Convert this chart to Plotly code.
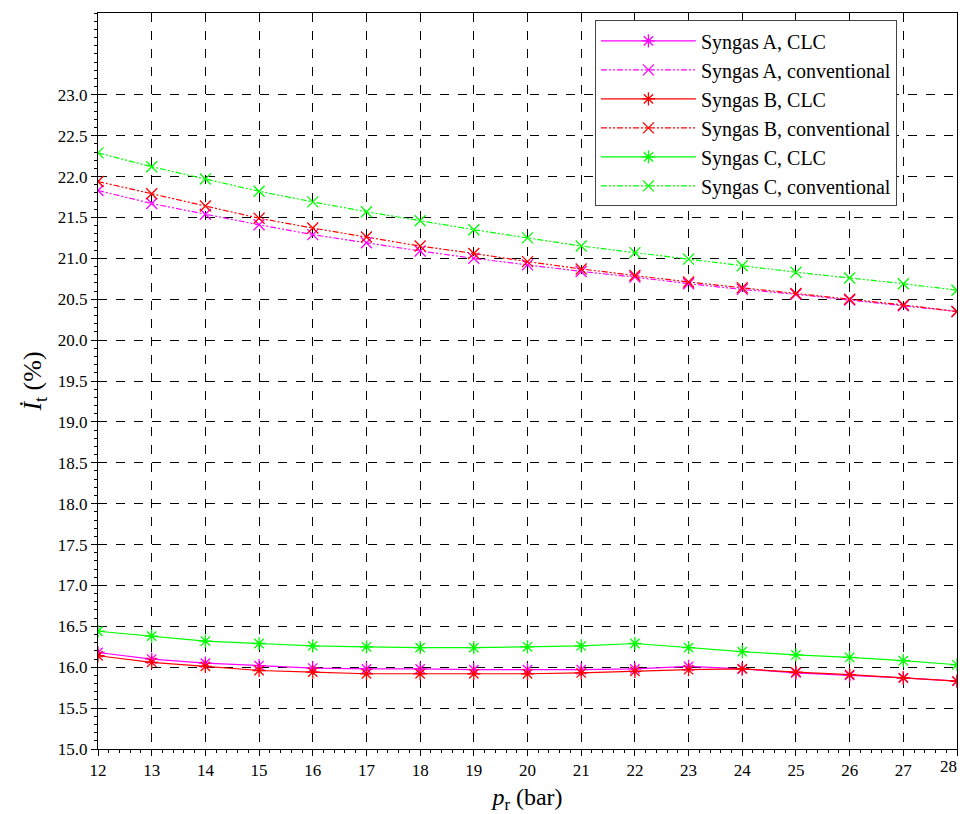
import plotly.graph_objects as go

x_vals = list(range(12, 29))

syngas_a_clc = [16.18, 16.10, 16.05, 16.02, 15.99, 15.98, 15.98, 15.97, 15.97, 15.97, 15.98, 16.01, 15.98, 15.93, 15.90, 15.87, 15.83]
syngas_a_conv = [21.83, 21.67, 21.54, 21.41, 21.29, 21.19, 21.09, 21.00, 20.92, 20.84, 20.77, 20.69, 20.62, 20.56, 20.49, 20.42, 20.35]
syngas_b_clc = [16.14, 16.06, 16.01, 15.96, 15.94, 15.92, 15.92, 15.92, 15.92, 15.93, 15.95, 15.97, 15.98, 15.94, 15.91, 15.87, 15.83]
syngas_b_conv = [21.94, 21.79, 21.64, 21.49, 21.37, 21.26, 21.15, 21.06, 20.96, 20.87, 20.79, 20.71, 20.64, 20.57, 20.50, 20.43, 20.35]
syngas_c_clc = [16.44, 16.38, 16.32, 16.29, 16.26, 16.25, 16.24, 16.24, 16.25, 16.26, 16.29, 16.24, 16.19, 16.15, 16.12, 16.08, 16.03]
syngas_c_conv = [22.29, 22.12, 21.97, 21.82, 21.69, 21.57, 21.46, 21.35, 21.25, 21.15, 21.07, 20.99, 20.91, 20.83, 20.76, 20.69, 20.61]

series = [
    ("Syngas A, CLC", syngas_a_clc, "#ff00ff", "solid", "asterisk-open"),
    ("Syngas A, conventional", syngas_a_conv, "#ff00ff", "6px,2px,2px,2px,2px,2px", "x-thin-open"),
    ("Syngas B, CLC", syngas_b_clc, "#ff0000", "solid", "asterisk-open"),
    ("Syngas B, conventional", syngas_b_conv, "#ff0000", "6px,2px,2px,2px,2px,2px", "x-thin-open"),
    ("Syngas C, CLC", syngas_c_clc, "#00ff00", "solid", "asterisk-open"),
    ("Syngas C, conventional", syngas_c_conv, "#00ff00", "6px,2px,2px,2px,2px,2px", "x-thin-open"),
]

fig = go.Figure()
for i, (name, ys, color, dash, sym) in enumerate(series):
    fig.add_trace(go.Scatter(
        x=x_vals, y=ys, name=name, mode="lines+markers",
        line=dict(color=color, width=1.2, dash=dash),
        marker=dict(symbol=sym, size=11, color=color, line=dict(color=color, width=1.3)),
    ))

font_family = "Liberation Serif, DejaVu Serif, serif"
y_ticks = [15.0 + 0.5 * i for i in range(17)]
x_ticktext = [str(v) for v in x_vals[:-1]] + [""]

fig.update_layout(
    width=960, height=814,
    margin=dict(l=98, r=3, t=13, b=65, autoexpand=False),
    paper_bgcolor="white", plot_bgcolor="white",
    font=dict(family=font_family, color="black"),
    legend=dict(
        x=0.5785, y=0.99, xanchor="left", yanchor="top",
        bgcolor="white", bordercolor="#444", borderwidth=1,
        font=dict(size=20, family=font_family),
        tracegroupgap=0, itemwidth=95, entrywidth=345,
    ),
    xaxis=dict(
        range=[12, 28], tickmode="array", tickvals=x_vals,
        ticktext=x_ticktext, automargin=False,
        showgrid=True, gridcolor="black", griddash="dash", gridwidth=1,
        showline=True, linecolor="black", linewidth=1, mirror=True,
        ticks="outside", ticklen=6, tickcolor="black",
        minor=dict(dtick=0.2, ticks="outside", ticklen=3, tickcolor="black", showgrid=False),
        tickfont=dict(size=17, family=font_family),
        title=dict(text="<i>p</i><sub>r</sub> (bar)", font=dict(size=24, family=font_family), standoff=10),
        zeroline=False,
    ),
    yaxis=dict(
        range=[15, 24.0], tickmode="array", tickvals=y_ticks, automargin=False,
        ticktext=[f"{v:.1f}" for v in y_ticks],
        showgrid=True, gridcolor="black", griddash="dash", gridwidth=1,
        showline=True, linecolor="black", linewidth=1, mirror=True,
        ticks="outside", ticklen=6, tickcolor="black",
        minor=dict(tickvals=[round(15 + 0.1 * i, 1) for i in range(91)], ticks="outside", ticklen=3, tickcolor="black", showgrid=False),
        tickfont=dict(size=17, family=font_family),
        title=dict(text="<i>I\u0307</i><sub>t</sub> (%)", font=dict(size=26, family=font_family), standoff=8),
        zeroline=False,
    ),
)

# last x tick label, right-aligned so it stays inside the page
fig.add_annotation(
    x=x_vals[-1], y=0, xref="x", yref="paper", text=str(x_vals[-1]),
    showarrow=False, xanchor="right", yanchor="top", yshift=-6, xshift=2,
    font=dict(size=17, family=font_family, color="black"),
)

fig.write_html("out.html")
